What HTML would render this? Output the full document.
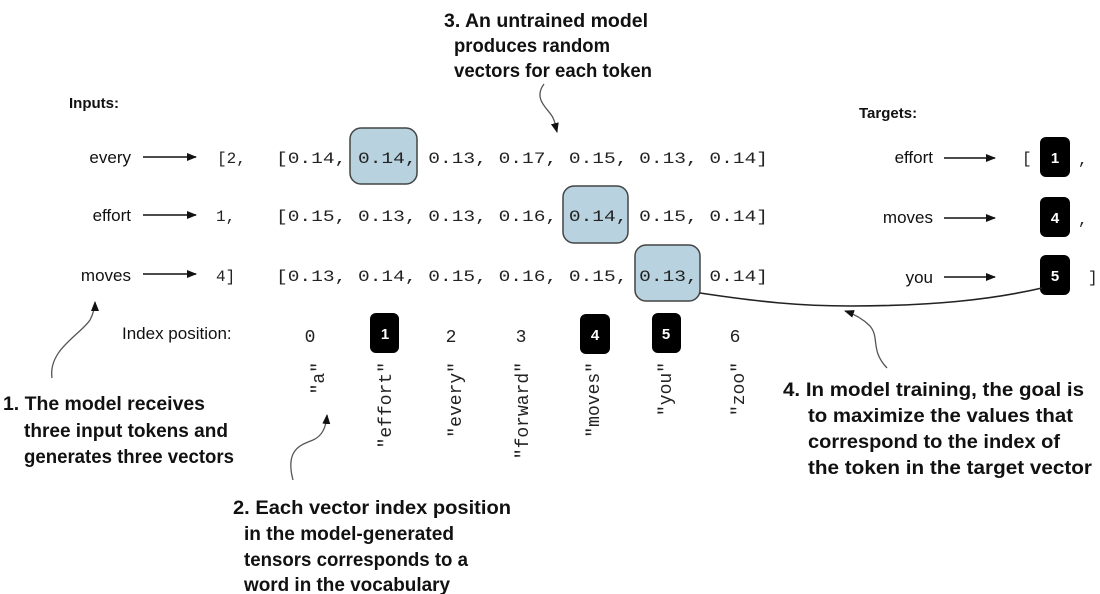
<!DOCTYPE html>
<html><head><meta charset="utf-8"><style>
html,body{margin:0;padding:0;background:#fff;}
svg{display:block;}
.s{font-family:"Liberation Sans",sans-serif;font-size:17px;fill:#111;}
.b{font-family:"Liberation Sans",sans-serif;font-size:15px;font-weight:bold;fill:#111;}
.m{font-family:"Liberation Mono",monospace;font-size:16px;fill:#222;}
.v{font-family:"Liberation Mono",monospace;font-size:18px;fill:#222;}
.a{font-family:"Liberation Sans",sans-serif;font-size:19px;font-weight:bold;fill:#111;}
.w{font-family:"Liberation Sans",sans-serif;font-size:15px;font-weight:bold;fill:#fff;}
</style></head><body>
<svg width="1100" height="594" viewBox="0 0 1100 594" xmlns="http://www.w3.org/2000/svg">
<defs>
<marker id="ah" markerWidth="10" markerHeight="8" refX="9" refY="4" orient="auto" markerUnits="userSpaceOnUse"><path d="M0,0 L10,4 L0,8 z" fill="#111"/></marker>
</defs>
<rect x="350" y="128" width="67" height="56" rx="11" fill="#b8d2df" stroke="#444" stroke-width="1.5"/>
<rect x="563" y="186" width="65" height="57" rx="11" fill="#b8d2df" stroke="#444" stroke-width="1.5"/>
<rect x="635" y="245" width="65" height="56" rx="11" fill="#b8d2df" stroke="#444" stroke-width="1.5"/>

<text class="b" x="69" y="108">Inputs:</text>
<text class="s" x="131" y="163" text-anchor="end">every</text>
<text class="s" x="131" y="221" text-anchor="end">effort</text>
<text class="s" x="131" y="281" text-anchor="end">moves</text>
<line x1="143" y1="157" x2="196" y2="157" stroke="#111" stroke-width="1.5" marker-end="url(#ah)"/>
<line x1="143" y1="215" x2="196" y2="215" stroke="#111" stroke-width="1.5" marker-end="url(#ah)"/>
<line x1="143" y1="274" x2="196" y2="274" stroke="#111" stroke-width="1.5" marker-end="url(#ah)"/>
<text class="m" x="217" y="163">[2,</text>
<text class="m" x="216" y="221">1,</text>
<text class="m" x="216" y="281">4]</text>
<text class="m" x="276" y="163" textLength="492" lengthAdjust="spacingAndGlyphs">[0.14, 0.14, 0.13, 0.17, 0.15, 0.13, 0.14]</text>
<text class="m" x="276" y="221" textLength="492" lengthAdjust="spacingAndGlyphs">[0.15, 0.13, 0.13, 0.16, 0.14, 0.15, 0.14]</text>
<text class="m" x="276" y="281" textLength="492" lengthAdjust="spacingAndGlyphs">[0.13, 0.14, 0.15, 0.16, 0.15, 0.13, 0.14]</text>

<text class="b" x="859" y="118">Targets:</text>
<text class="s" x="933" y="163" text-anchor="end">effort</text>
<text class="s" x="933" y="223" text-anchor="end">moves</text>
<text class="s" x="933" y="283" text-anchor="end">you</text>
<line x1="944" y1="158" x2="995" y2="158" stroke="#111" stroke-width="1.5" marker-end="url(#ah)"/>
<line x1="944" y1="218" x2="995" y2="218" stroke="#111" stroke-width="1.5" marker-end="url(#ah)"/>
<line x1="944" y1="277" x2="995" y2="277" stroke="#111" stroke-width="1.5" marker-end="url(#ah)"/>
<text class="m" x="1022" y="163">[</text>
<rect x="1040" y="137" width="30" height="40" rx="6" fill="#000"/><text class="w" x="1055" y="163" text-anchor="middle">1</text>
<text class="m" x="1078" y="164">,</text>
<rect x="1040" y="197" width="30" height="40" rx="6" fill="#000"/><text class="w" x="1055" y="223" text-anchor="middle">4</text>
<text class="m" x="1078" y="224">,</text>
<rect x="1040" y="255" width="30" height="40" rx="6" fill="#000"/><text class="w" x="1055" y="281" text-anchor="middle">5</text>
<text class="m" x="1088" y="282">]</text>

<path d="M700,293 C760,302 800,306 850,306 C930,306 990,300 1042,288" fill="none" stroke="#222" stroke-width="1.6"/>

<text class="s" x="122" y="339">Index position:</text>
<text class="v" x="310" y="342" text-anchor="middle">0</text>
<rect x="370" y="313" width="29" height="40" rx="6" fill="#000"/><text class="w" x="385" y="339" text-anchor="middle">1</text>
<text class="v" x="451" y="342" text-anchor="middle">2</text>
<text class="v" x="521" y="342" text-anchor="middle">3</text>
<rect x="580" y="314" width="30" height="40" rx="6" fill="#000"/><text class="w" x="595" y="340" text-anchor="middle">4</text>
<rect x="652" y="313" width="29" height="40" rx="6" fill="#000"/><text class="w" x="666" y="339" text-anchor="middle">5</text>
<text class="v" x="735" y="342" text-anchor="middle">6</text>

<g class="v">
<text transform="translate(324,362) rotate(-90)" text-anchor="end">"a"</text>
<text transform="translate(391,362) rotate(-90)" text-anchor="end">"effort"</text>
<text transform="translate(461,362) rotate(-90)" text-anchor="end">"every"</text>
<text transform="translate(528,362) rotate(-90)" text-anchor="end">"forward"</text>
<text transform="translate(599,362) rotate(-90)" text-anchor="end">"moves"</text>
<text transform="translate(671,362) rotate(-90)" text-anchor="end">"you"</text>
<text transform="translate(744,362) rotate(-90)" text-anchor="end">"zoo"</text>
</g>

<g fill="none" stroke="#555" stroke-width="1.3">
<path d="M544,84 C532,100 550,110 553,118 C556,124 556,128 557,132" marker-end="url(#ah)"/>
<path d="M52,378 C48,350 80,335 90,320 C94,312 95,306 95,302" marker-end="url(#ah)"/>
<path d="M293,480 C285,450 300,445 313,440 C322,436 326,428 327,415" marker-end="url(#ah)"/>
<path d="M887,368 C870,350 880,338 870,326 C862,318 854,314 845,311" marker-end="url(#ah)"/>
</g>

<text class="a" x="444" y="27" textLength="204" lengthAdjust="spacingAndGlyphs">3. An untrained model</text>
<text class="a" x="454" y="52" textLength="156" lengthAdjust="spacingAndGlyphs">produces random</text>
<text class="a" x="454" y="77" textLength="198" lengthAdjust="spacingAndGlyphs">vectors for each token</text>

<text class="a" x="3" y="410" textLength="202" lengthAdjust="spacingAndGlyphs">1. The model receives</text>
<text class="a" x="24" y="437" textLength="204" lengthAdjust="spacingAndGlyphs">three input tokens and</text>
<text class="a" x="24" y="463" textLength="210" lengthAdjust="spacingAndGlyphs">generates three vectors</text>

<text class="a" x="233" y="514" textLength="278" lengthAdjust="spacingAndGlyphs">2. Each vector index position</text>
<text class="a" x="244" y="540" textLength="210" lengthAdjust="spacingAndGlyphs">in the model-generated</text>
<text class="a" x="244" y="566" textLength="224" lengthAdjust="spacingAndGlyphs">tensors corresponds to a</text>
<text class="a" x="244" y="591" textLength="206" lengthAdjust="spacingAndGlyphs">word in the vocabulary</text>

<text class="a" x="783" y="396" textLength="301" lengthAdjust="spacingAndGlyphs">4. In model training, the goal is</text>
<text class="a" x="808" y="422" textLength="265" lengthAdjust="spacingAndGlyphs">to maximize the values that</text>
<text class="a" x="808" y="448" textLength="252" lengthAdjust="spacingAndGlyphs">correspond to the index of</text>
<text class="a" x="808" y="474" textLength="284" lengthAdjust="spacingAndGlyphs">the token in the target vector</text>
</svg>
</body></html>
